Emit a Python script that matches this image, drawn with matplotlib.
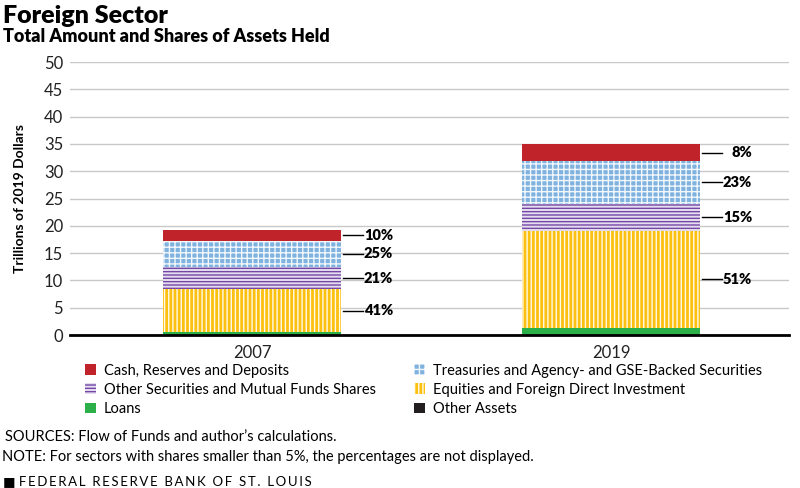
import numpy as np
import matplotlib.pyplot as plt
from matplotlib.patches import Patch

# data (trillions of 2019 dollars)
years = ['2007', '2019']
cash = [1.93, 3.0]
treasuries = [4.83, 7.9]
other_sec = [4.05, 4.9]
equities = [7.91, 17.8]
loans = [0.50, 1.3]
other_assets = [0.08, 0.1]

share_labels = {
    'cash': ['10%', '8%'],
    'treasuries': ['25%', '23%'],
    'other_sec': ['21%', '15%'],
    'equities': ['41%', '51%'],
}

plt.rcParams['font.family'] = ['Lato', 'DejaVu Sans']
plt.rcParams['hatch.linewidth'] = 1.0

fig = plt.figure(figsize=(8, 4.88), dpi=100)
ax = fig.add_axes([0.0875, 0.3135, 0.899, 0.5594])

x = np.arange(len(years))
width = 0.496

# (values, face, hatch colour, hatch, legend name, key)
series = [
    (loans, '#2bb04a', '#2bb04a', None, 'Loans', None),
    (equities, '#fcc010', '#fffaea', '||||', 'Equities and Foreign Direct Investment', 'equities'),
    (other_sec, '#e6def0', '#7447a6', '-----', 'Other Securities and Mutual Funds Shares', 'other_sec'),
    (treasuries, '#7fb2df', '#f2f7fc', '+++', 'Treasuries and Agency- and GSE-Backed Securities', 'treasuries'),
    (cash, '#c1232b', '#c1232b', None, 'Cash, Reserves and Deposits', 'cash'),
    (other_assets, '#231f20', '#231f20', None, 'Other Assets', None),
]

bottom = np.zeros(len(years))
handles = {}
for vals, face, hcol, hatch, name, key in series:
    vals = np.array(vals)
    ax.bar(x, vals, width, bottom=bottom, color=face, edgecolor=hcol,
           hatch=hatch, linewidth=0, zorder=3)
    handles[name] = Patch(facecolor=face, edgecolor=hcol, hatch=hatch, linewidth=0)
    if key is not None:
        for i, lab in enumerate(share_labels[key]):
            yc = bottom[i] + vals[i] / 2
            ax.plot([x[i] + width / 2 + 0.005, x[i] + width / 2 + 0.062], [yc, yc],
                    color='black', lw=1, clip_on=False, zorder=4)
            ax.text(x[i] + width / 2 + 0.145, yc, lab, ha='right', va='center',
                    fontsize=10.5, fontweight='heavy')
    bottom += vals

ax.set_xlim(-0.507, 1.496)
ax.set_ylim(0, 50)
ax.set_yticks(np.arange(0, 51, 5))
ax.set_xticks(x)
ax.set_xticklabels(years)
ax.tick_params(axis='both', length=0, labelsize=12, colors='#222222')
ax.tick_params(axis='y', pad=5)
ax.tick_params(axis='x', pad=7)
ax.grid(axis='y', color='#c8c8c8', lw=1, zorder=0)
for s in ['top', 'right', 'left']:
    ax.spines[s].set_visible(False)
ax.spines['bottom'].set_linewidth(2)
ax.spines['bottom'].set_zorder(5)
ax.set_ylabel('Trillions of 2019 Dollars', fontsize=10, fontweight='bold', labelpad=13)

left_col = ['Cash, Reserves and Deposits', 'Other Securities and Mutual Funds Shares', 'Loans']
right_col = ['Treasuries and Agency- and GSE-Backed Securities',
             'Equities and Foreign Direct Investment', 'Other Assets']
legend_kw = dict(frameon=False, loc='upper left', fontsize=10.5, handlelength=0.75,
                 handleheight=0.75, handletextpad=0.55, labelspacing=0.36, borderaxespad=0,
                 borderpad=0)
fig.legend([handles[n] for n in left_col], left_col,
           bbox_to_anchor=(0.106, 0.255), **legend_kw)
fig.legend([handles[n] for n in right_col], right_col,
           bbox_to_anchor=(0.518, 0.255), **legend_kw)

fig.text(0.004, 0.99, 'Foreign Sector', fontsize=18, fontweight='heavy', va='top')
fig.text(0.004, 0.943, 'Total Amount and Shares of Assets Held', fontsize=13,
         fontweight='heavy', va='top')
fig.text(0.006, 0.104, 'SOURCES: Flow of Funds and author\u2019s calculations.', fontsize=10.5,
         va='center')
fig.text(0.003, 0.063, 'NOTE: For sectors with shares smaller than 5%, the percentages are not displayed.',
         fontsize=10.5, va='center')
footer = '  '.join('\u2009'.join(w) for w in 'FEDERAL RESERVE BANK OF ST. LOUIS'.split())
fig.text(0.004, 0.015, '\u25a0 ' + footer, fontsize=9.5, va='center')

fig.savefig('out.png', dpi=100)
